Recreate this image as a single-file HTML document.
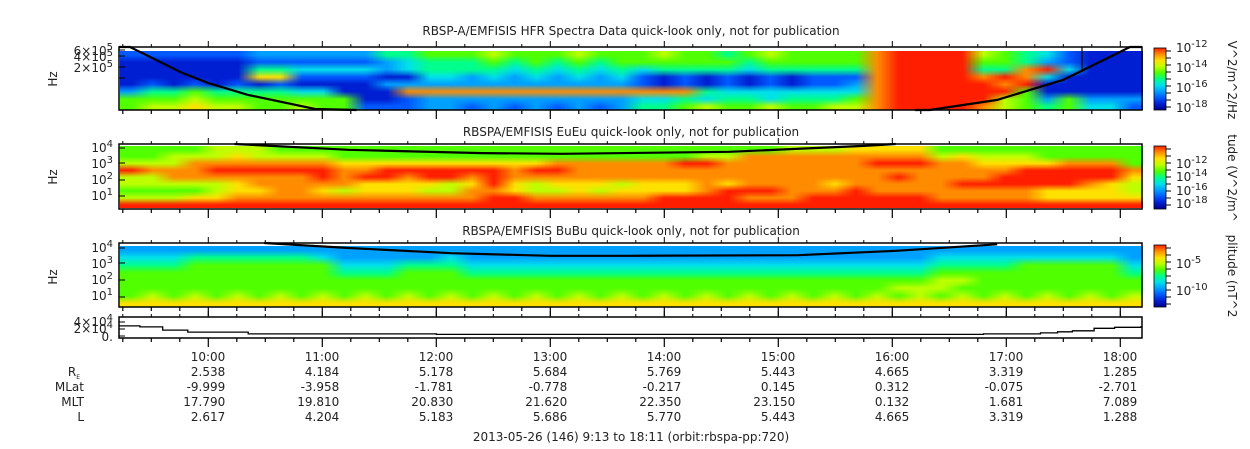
<!DOCTYPE html>
<html><head><meta charset="utf-8">
<style>
html,body{margin:0;padding:0;background:#fff;}
#wrap{position:relative;width:1250px;height:449px;overflow:hidden;font-family:"Liberation Sans","DejaVu Sans",sans-serif;}
canvas{position:absolute;}
svg{position:absolute;left:0;top:0;}
text{font-family:"DejaVu Sans","Liberation Sans",sans-serif;font-size:12px;fill:#222;}
.sm{font-size:12px;}
</style></head>
<body>
<div id="wrap">
<canvas id="c1" width="1023" height="59" style="left:120px;top:51px"></canvas>
<canvas id="c2" width="1023" height="62" style="left:120px;top:146px"></canvas>
<canvas id="c3" width="1023" height="61" style="left:120px;top:246px"></canvas>
<canvas id="cb1" width="12" height="62" style="left:1154px;top:48px"></canvas>
<canvas id="cb2" width="12" height="63" style="left:1154px;top:146px"></canvas>
<canvas id="cb3" width="12" height="62" style="left:1154px;top:245px"></canvas>
<svg id="ov" width="1250" height="449"></svg>
</div>
<script>
// ---- data ----
const cmap=[[0,0,140],[0,30,210],[0,90,255],[0,160,255],[0,225,235],[0,255,140],[80,255,0],[190,255,0],[255,225,0],[255,140,0],[255,30,0]];
const hfrRows=[
"22222233"+"33335566"+"67666766"+"67665676"+"6669AAAA"+"76542111",
"11111122"+"22223455"+"56565656"+"66666566"+"6669AAAA"+"66532111",
"11111155"+"44443455"+"55454545"+"45555455"+"5559AAAA"+"559A4111",
"11111188"+"22221144"+"34343434"+"21212121"+"2229AAAA"+"9A941111",
"12121212"+"11113333"+"33333333"+"21212121"+"2239AAAA"+"A9A11111",
"35565555"+"44111999"+"99999999"+"99954444"+"4449AAAA"+"AA611111",
"66676666"+"66611233"+"33333333"+"44545545"+"5569AAAA"+"A7636333",
"67787766"+"76622233"+"23232323"+"55676676"+"6779AAAA"+"97656442"];
const euRows=[
"66667776"+"66666666"+"66666666"+"66666667"+"77888866"+"66666666",
"66777877"+"77666666"+"66666666"+"66677999"+"99999978"+"77766666",
"77799999"+"99888888"+"88889999"+"99AA9999"+"999AAA99"+"88889996",
"A999AAAA"+"AA99AAAA"+"AA9AA999"+"99999999"+"99999999"+"99AAAAA9",
"77999999"+"9A9AA9AA"+"9A999999"+"99999999"+"9999A999"+"9AAAAAA8",
"77777899"+"99988887"+"8A878887"+"88898999"+"9899999A"+"AAAAA987",
"66667889"+"98788877"+"99877878"+"8889AAA9"+"99A99999"+"99988887",
"77788999"+"99999999"+"9AA99999"+"9AAAA999"+"AAAAAA99"+"99988888",
"AAAAAAAA"+"AAAAAAAA"+"AAAAAAAA"+"AAAAAAAA"+"AAAAAAAA"+"AAAAAAAA"];
const buRows=[
"33333333"+"33333333"+"33333333"+"33333333"+"33333333"+"33333333",
"44455555"+"54333334"+"33333333"+"33333333"+"33333344"+"44444443",
"55566666"+"66444555"+"44444444"+"44444444"+"44444455"+"55666664",
"66666666"+"66555666"+"55555555"+"55555555"+"55555566"+"66666665",
"66666666"+"66666666"+"66666666"+"66666666"+"66666677"+"66666666",
"66666666"+"66666666"+"66666666"+"66666666"+"66667776"+"66666666",
"67676767"+"67676767"+"67676767"+"67676767"+"67676767"+"67676767",
"88888888"+"88888888"+"88888888"+"88888888"+"88888888"+"88888888"];
// curves: hours and fraction of panel height
const hfrCurveT=[9.20,9.313,9.769,9.997,10.348,10.936,11.3];
const hfrCurveF=[-0.05,0.0,0.41,0.57,0.76,0.984,1.05];
const hfrCurve2T=[16.2,16.33,16.92,17.50,18.085,18.2];
const hfrCurve2F=[1.05,1.0,0.84,0.52,0.0,-0.05];
const euCurveT=[10.23,11.23,12.40,13.10,14.57,15.75,16.03];
const euCurveF=[0.0,0.09,0.14,0.15,0.12,0.03,0.0];
const buCurveT=[10.49,11.25,12.13,13.00,13.70,15.17,16.05,16.92];
const buCurveF=[0.0,0.08,0.16,0.20,0.20,0.19,0.12,0.02];
const altT=[9.22,9.40,9.60,9.82,10.35,12.0,14.0,16.30,16.80,17.30,17.45,17.58,17.77,17.95,18.18];
const altV=[2.9,2.6,1.7,1.1,0.6,0.45,0.45,0.45,0.6,0.9,1.2,1.5,2.2,2.5,2.6];
const hours=["10:00","11:00","12:00","13:00","14:00","15:00","16:00","17:00","18:00"];
const RE=["2.538","4.184","5.178","5.684","5.769","5.443","4.665","3.319","1.285"];
const MLat=["-9.999","-3.958","-1.781","-0.778","-0.217","0.145","0.312","-0.075","-2.701"];
const MLT=["17.790","19.810","20.830","21.620","22.350","23.150","0.132","1.681","7.089"];
const Lv=["2.617","4.204","5.183","5.686","5.770","5.443","4.665","3.319","1.288"];

// ---- scales ----
const T0=9.2167, PX=114;
const xs=t=>119+(t-T0)*PX;
const NS='http://www.w3.org/2000/svg';
const ov=document.getElementById('ov');
function el(tag,attrs,txt){const e=document.createElementNS(NS,tag);for(const k in attrs)e.setAttribute(k,attrs[k]);if(txt!==undefined)e.textContent=txt;ov.appendChild(e);return e;}

function drawSpec(id,rows){
  const cv=document.getElementById(id);const ctx=cv.getContext('2d');
  const cols=rows[0].length,nr=rows.length;
  const sm=document.createElement('canvas');sm.width=cols;sm.height=nr;
  const sx=sm.getContext('2d');const img=sx.createImageData(cols,nr);
  for(let r=0;r<nr;r++)for(let c=0;c<cols;c++){const v=parseInt(rows[r][c],16);const col=cmap[v];const i=(r*cols+c)*4;img.data[i]=col[0];img.data[i+1]=col[1];img.data[i+2]=col[2];img.data[i+3]=255;}
  sx.putImageData(img,0,0);
  ctx.imageSmoothingEnabled=true;ctx.drawImage(sm,0,0,cv.width,cv.height);
}
drawSpec('c1',hfrRows);drawSpec('c2',euRows);drawSpec('c3',buRows);
function drawCb(id){const cv=document.getElementById(id);const ctx=cv.getContext('2d');const g=ctx.createLinearGradient(0,0,0,cv.height);
  for(let i=0;i<cmap.length;i++){const c=cmap[cmap.length-1-i];g.addColorStop(i/(cmap.length-1),`rgb(${c[0]},${c[1]},${c[2]})`);}
  ctx.fillStyle=g;ctx.fillRect(0,0,cv.width,cv.height);}
drawCb('cb1');drawCb('cb2');drawCb('cb3');

// panels
const panels=[{top:47,bot:110,name:'hfr'},{top:144,bot:209,name:'eueu'},{top:243,bot:307,name:'bubu'},{top:317,bot:338,name:'altitude'}];
panels.forEach(p=>{
  const r=el('rect',{x:119,y:p.top,width:1023,height:p.bot-p.top,fill:'none',stroke:'#000','stroke-width':1.5});
  
  
  for(let m=0;m<=36;m++){const t=9.25+m*0.25;const x=xs(t);if(x>1142)break;
    const major=(m%4===3);
    const tk=el('line',{x1:x,x2:x,y1:p.bot,y2:p.bot+(major?9:4),stroke:'#000','stroke-width':1.2});
    
    
    const tk2=el('line',{x1:x,x2:x,y1:p.top,y2:p.top-(major?6:3),stroke:'#000','stroke-width':1});
    
    
  }
});
function curve(Ts,Fs,p,name){let d='';Ts.forEach((t,i)=>{const x=Math.max(119,Math.min(1142,xs(t)));const y=Math.max(p.top,Math.min(p.bot,p.top+Fs[i]*(p.bot-p.top)));d+=(i?'L':'M')+x.toFixed(1)+','+y.toFixed(1);});
  const e=el('path',{d:d,fill:'none',stroke:'#000','stroke-width':2.2});
  
  }
curve(hfrCurveT,hfrCurveF,panels[0],'hfr-plasma-curve-left');
curve(hfrCurve2T,hfrCurve2F,panels[0],'hfr-plasma-curve-right');
curve(euCurveT,euCurveF,panels[1],'eueu-cyclotron-curve');
curve(buCurveT,buCurveF,panels[2],'bubu-cyclotron-curve');
el('line',{x1:1082,x2:1082,y1:47,y2:72,stroke:'#000','stroke-width':1.2});
// altitude step line
(function(){let d='';altT.forEach((t,i)=>{const x=xs(t);const y=336-altV[i]/4*14;d+=(i?'H'+x.toFixed(1)+'V'+y.toFixed(1):'M'+x.toFixed(1)+','+y.toFixed(1));});
  d+='H1142';
  const e=el('path',{d:d,fill:'none',stroke:'#000','stroke-width':1.3});
  
  })();

// titles
const titles=[[35,'RBSP-A/EMFISIS  HFR Spectra Data quick-look only, not for publication'],[136,'RBSPA/EMFISIS  EuEu quick-look only, not for publication'],[235,'RBSPA/EMFISIS  BuBu quick-look only, not for publication']];
titles.forEach(([y,t],i)=>{const e=el('text',{x:631,y:y,'text-anchor':'middle','xml:space':'preserve'},t);
  
  });

// y labels
function ylab(x,y,base,exp,name){const e=el('text',{x:x,y:y,'text-anchor':'end'});const s1=document.createElementNS(NS,'tspan');s1.textContent=base;e.appendChild(s1);const s2=document.createElementNS(NS,'tspan');s2.setAttribute('dy','-5');s2.setAttribute('font-size','10');s2.textContent=exp;e.appendChild(s2);
  
  }
ylab(113,55,'6×10','5','y-tick-6e5');ylab(113,61,'4×10','5','y-tick-4e5');ylab(113,72,'2×10','5','y-tick-2e5');
[[152,'4'],[168,'3'],[184,'2'],[200,'1']].forEach(([y,e])=>ylab(113,y,'10',e,'y-tick-eueu'));
[[252,'4'],[268,'3'],[284,'2'],[300,'1']].forEach(([y,e])=>ylab(113,y,'10',e,'y-tick-bubu'));
ylab(113,326,'4×10','4','y-tick-alt-4e4');ylab(113,333,'2×10','4','y-tick-alt-2e4');
el('text',{x:113,y:341,'text-anchor':'end'},'0.');
[[79,'hfr'],[177,'eueu'],[277,'bubu']].forEach(([y,n])=>{const e=el('text',{x:57,y:y,'text-anchor':'middle',transform:`rotate(-90 57 ${y})`},'Hz');
  
  });
// small y ticks on left edges
[[50,56,67,78],[148,163,180,196],[248,263,280,297],[322,329,336]].forEach(arr=>arr.forEach(y=>el('line',{x1:119,x2:125,y1:y,y2:y,stroke:'#000'})));

// colorbar labels
[[52,'-12'],[72,'-14'],[92,'-16'],[112,'-18'],[168,'-12'],[181,'-14'],[195,'-16'],[208,'-18'],[268,'-5'],[295,'-10']].forEach(([y,e])=>{ylab(1200,y,'10',e,'colorbar-tick');});
document.querySelectorAll('text').forEach(t=>{if(t.getAttribute('x')==='1200'){t.setAttribute('x','1176');t.setAttribute('text-anchor','start');}});
[[48,110],[146,209],[245,307]].forEach(([a,b])=>{el('rect',{x:1154,y:a,width:12,height:b-a,fill:'none',stroke:'#000','stroke-width':0.8});for(let y=a+3;y<b;y+=7)el('line',{x1:1166,x2:1171,y1:y,y2:y,stroke:'#000'});});
[[80,'V^2/m^2/Hz','colorbar-title-hfr'],[178,'tude (V^2/m^','colorbar-title-eueu'],[276,'plitude (nT^2','colorbar-title-bubu']].forEach(([y,t,n])=>{const e=el('text',{x:1228,y:y,'text-anchor':'middle',transform:`rotate(90 1228 ${y})`},t);
  
  });

// bottom table
hours.forEach((h,i)=>{const x=xs(10+i)+17;
  const a=el('text',{x:x,y:361,'text-anchor':'end'},h);
  
  
  [[RE,376],[MLat,391],[MLT,406],[Lv,421]].forEach(([arr,y])=>{const e=el('text',{x:x,y:y,'text-anchor':'end'},arr[i]);
    
    });
});
const re=el('text',{x:80,y:376,'text-anchor':'end'});re.textContent='R';const sub=document.createElementNS(NS,'tspan');sub.setAttribute('font-size','6');sub.setAttribute('dy','3');sub.textContent='E';re.appendChild(sub);
el('text',{x:84,y:391,'text-anchor':'end'},'MLat');
el('text',{x:84,y:406,'text-anchor':'end'},'MLT');
el('text',{x:84,y:421,'text-anchor':'end'},'L');
const ft=el('text',{x:631,y:441,'text-anchor':'middle'},'2013-05-26 (146) 9:13 to 18:11 (orbit:rbspa-pp:720)');


</script>
</body></html>
